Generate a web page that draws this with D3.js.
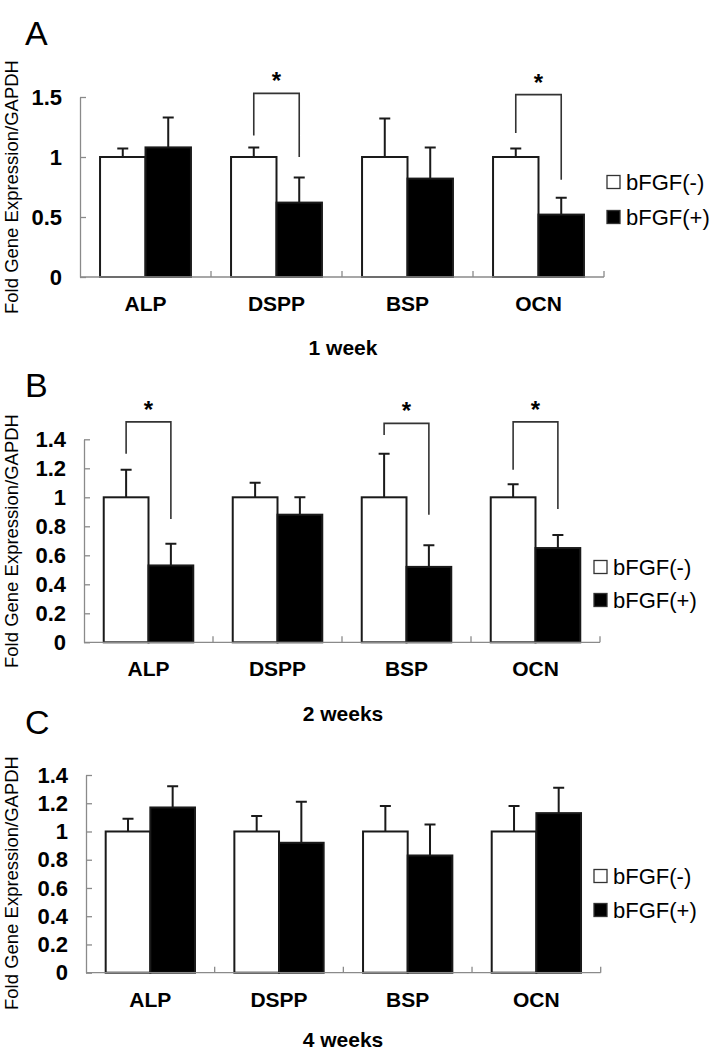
<!DOCTYPE html>
<html>
<head>
<meta charset="utf-8">
<script src="https://cdn.jsdelivr.net/npm/d3@7"></script>
<style>
  html, body { margin: 0; padding: 0; background: #fff; }
  svg { display: block; }
  text { font-family: "Liberation Sans", Arial, Helvetica, sans-serif; fill: #000; }
</style>
</head>
<body>
<svg id="chart" width="714" height="1050"></svg>
<script>
// ---------------- DATA ----------------
const categories = ["ALP", "DSPP", "BSP", "OCN"];
const series = ["bFGF(-)", "bFGF(+)"];
const panelLetters = ["A", "B", "C"];
const weekLabels = ["1 week", "2 weeks", "4 weeks"];
const yAxisTitle = "Fold Gene Expression/GAPDH";

// 1 week
const w1Minus    = [1.00, 1.00, 1.00, 1.00];
const w1MinusErr = [0.07, 0.08, 0.32, 0.07];
const w1Plus     = [1.08, 0.62, 0.82, 0.52];
const w1PlusErr  = [0.25, 0.21, 0.26, 0.14];
// 2 weeks
const w2Minus    = [1.00, 1.00, 1.00, 1.00];
const w2MinusErr = [0.19, 0.10, 0.30, 0.09];
const w2Plus     = [0.53, 0.88, 0.52, 0.65];
const w2PlusErr  = [0.15, 0.12, 0.15, 0.09];
// 4 weeks
const w4Minus    = [1.00, 1.00, 1.00, 1.00];
const w4MinusErr = [0.09, 0.11, 0.18, 0.18];
const w4Plus     = [1.17, 0.92, 0.83, 1.13];
const w4PlusErr  = [0.15, 0.29, 0.22, 0.18];

// y tick labels
const ticksA = [0, 0.5, 1, 1.5];
const ticksBC = [0, 0.2, 0.4, 0.6, 0.8, 1, 1.2, 1.4];

// significance brackets: category, bracket top, left leg bottom, right leg bottom (data units)
const sigA = [
  { cat: "DSPP", top: 1.53, left: 1.18, right: 1.00 },
  { cat: "OCN",  top: 1.52, left: 1.20, right: 0.81 }
];
const sigB = [
  { cat: "ALP",  top: 1.52, left: 1.30, right: 0.85 },
  { cat: "BSP",  top: 1.51, left: 1.43, right: 0.88 },
  { cat: "OCN",  top: 1.52, left: 1.19, right: 0.92 }
];
const sigC = [];

// ---------------- LAYOUT ----------------
const panels = [
  { letter: panelLetters[0], week: weekLabels[0], minus: w1Minus, minusErr: w1MinusErr, plus: w1Plus, plusErr: w1PlusErr,
    ticks: ticksA, sig: sigA,
    left: 80, right: 604, top: 97, bottom: 277,
    letterY: 45, weekY: 355, titleY: 187, legendX: 607, legendY: [182, 217] },
  { letter: panelLetters[1], week: weekLabels[1], minus: w2Minus, minusErr: w2MinusErr, plus: w2Plus, plusErr: w2PlusErr,
    ticks: ticksBC, sig: sigB,
    left: 84, right: 600, top: 439.3, bottom: 642.3,
    letterY: 397, weekY: 721, titleY: 541, legendX: 594, legendY: [567, 600] },
  { letter: panelLetters[2], week: weekLabels[2], minus: w4Minus, minusErr: w4MinusErr, plus: w4Plus, plusErr: w4PlusErr,
    ticks: ticksBC, sig: sigC,
    left: 86, right: 600.7, top: 775, bottom: 972.7,
    letterY: 734, weekY: 1047, titleY: 883, legendX: 594, legendY: [876, 910] }
];

const svg = d3.select("#chart");
const axisColor = "#8a8a8a";
const barStroke = "#1a1a1a";

panels.forEach(p => {
  const g = svg.append("g");
  const y = d3.scaleLinear().domain([0, d3.max(p.ticks)]).range([p.bottom, p.top]);
  const x = d3.scaleBand().domain(categories).range([p.left, p.right]).padding(0);
  const bw = x.bandwidth();
  const xi = d3.scaleBand().domain(series).range([bw * 0.153, bw * 0.847]).padding(0);

  // panel letter
  g.append("text").attr("x", 25).attr("y", p.letterY)
    .attr("font-size", 34).text(p.letter);

  // y axis
  const yAxis = d3.axisLeft(y).tickValues(p.ticks).tickSizeInner(-6).tickSizeOuter(0).tickPadding(18)
    .tickFormat(d3.format(""));
  const ya = g.append("g").attr("transform", `translate(${p.left},0)`).call(yAxis);
  ya.select(".domain").attr("stroke", axisColor).attr("stroke-width", 1.3);
  ya.selectAll(".tick line").attr("stroke", axisColor).attr("stroke-width", 1.3);
  ya.selectAll(".tick text").attr("font-size", 22).attr("font-weight", "bold")
    .attr("font-family", "'Liberation Sans', Arial, sans-serif").attr("fill", "#000");

  // y axis title
  g.append("text")
    .attr("transform", `translate(18,${p.titleY}) rotate(-90)`)
    .attr("text-anchor", "middle").attr("font-size", 18.5).attr("fill", "#222")
    .text(yAxisTitle);

  // bars
  const rows = categories.map((c, i) => ({ cat: c, vals: [
    { s: series[0], v: p.minus[i], e: p.minusErr[i] },
    { s: series[1], v: p.plus[i],  e: p.plusErr[i] }
  ]}));

  const cg = g.selectAll(".cat").data(rows).enter().append("g")
    .attr("transform", d => `translate(${x(d.cat)},0)`);

  cg.selectAll(".err").data(d => d.vals).enter().append("path")
    .attr("d", d => {
      const cx = xi(d.s) + xi.bandwidth() / 2;
      const yt = y(d.v + d.e), yb = y(d.v);
      return `M${cx},${yb}V${yt}M${cx - 5.5},${yt}H${cx + 5.5}`;
    })
    .attr("stroke", barStroke).attr("stroke-width", 2).attr("fill", "none");

  cg.selectAll(".bar").data(d => d.vals).enter().append("rect")
    .attr("x", d => xi(d.s))
    .attr("y", d => y(d.v))
    .attr("width", xi.bandwidth())
    .attr("height", d => y(0) - y(d.v))
    .attr("fill", d => d.s === series[0] ? "#fff" : "#000")
    .attr("stroke", barStroke).attr("stroke-width", 2);

  // x axis line and band ticks
  g.append("line").attr("x1", p.left).attr("x2", p.right)
    .attr("y1", y(0)).attr("y2", y(0))
    .attr("stroke", axisColor).attr("stroke-width", 1.3);
  const bounds = categories.slice(1).map(c => x(c)).concat([x(categories[categories.length - 1]) + bw]);
  g.selectAll(".xt").data(bounds).enter().append("line")
    .attr("x1", d => d).attr("x2", d => d)
    .attr("y1", y(0)).attr("y2", y(0) - 6)
    .attr("stroke", axisColor).attr("stroke-width", 1.3);

  // category labels
  g.selectAll(".cl").data(categories).enter().append("text")
    .attr("x", d => x(d) + bw / 2)
    .attr("y", y(0) + 34)
    .attr("text-anchor", "middle").attr("font-size", 21).attr("font-weight", "bold")
    .text(d => d);

  // significance brackets
  p.sig.forEach(s => {
    const lx = x(s.cat) + xi(series[0]) + xi.bandwidth() / 2;
    const rx = x(s.cat) + xi(series[1]) + xi.bandwidth() / 2;
    g.append("path")
      .attr("d", `M${lx},${y(s.left)}V${y(s.top)}H${rx}V${y(s.right)}`)
      .attr("stroke", "#333").attr("stroke-width", 1.6).attr("fill", "none");
    g.append("text")
      .attr("x", (lx + rx) / 2).attr("y", y(s.top) - 4)
      .attr("text-anchor", "middle").attr("font-size", 24).attr("font-weight", "bold")
      .text("*");
  });

  // legend
  series.forEach((s, k) => {
    const cy = p.legendY[k];
    g.append("rect").attr("x", p.legendX).attr("y", cy - 6.5)
      .attr("width", 13).attr("height", 13)
      .attr("fill", k === 0 ? "#fff" : "#000")
      .attr("stroke", "#333").attr("stroke-width", 1.3);
    g.append("text").attr("x", p.legendX + 19).attr("y", cy + 7.5)
      .attr("font-size", 22).attr("fill", "#111").text(s);
  });

  // week label
  g.append("text").attr("x", 343).attr("y", p.weekY)
    .attr("text-anchor", "middle").attr("font-size", 21).attr("font-weight", "bold")
    .text(p.week);
});
</script>
</body>
</html>
